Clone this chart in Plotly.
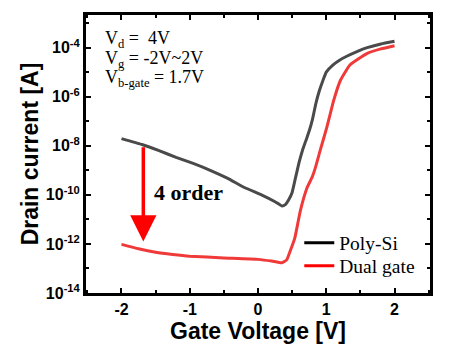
import plotly.graph_objects as go

# Poly-Si (single gate) transfer curve: gate voltage [V], log10 of drain current [A]
poly_vg = [-2.0, -1.7, -1.45, -1.2, -0.95, -0.7, -0.45, -0.2, 0.05, 0.25, 0.35, 0.40, 0.45, 0.50,
           0.55, 0.60, 0.65, 0.70, 0.75, 0.80, 0.85, 0.90, 0.95, 1.0, 1.1, 1.2, 1.3, 1.45, 1.6, 1.8, 2.0]
poly_log_id = [-7.71, -7.95, -8.2, -8.47, -8.72, -9.0, -9.32, -9.7, -10.0, -10.28, -10.45, -10.4, -10.2, -9.9,
               -9.3, -8.7, -8.2, -7.8, -7.4, -6.9, -6.25, -5.75, -5.35, -5.0, -4.7, -4.5, -4.35, -4.16, -4.0, -3.85, -3.74]

# Dual gate transfer curve
dual_vg = [-2.0, -1.75, -1.5, -1.25, -1.0, -0.5, 0.0, 0.2, 0.35, 0.42, 0.47, 0.54, 0.62, 0.72, 0.79,
           0.84, 0.91, 1.01, 1.11, 1.21, 1.35, 1.6, 1.8, 2.0]
dual_log_id = [-12.02, -12.2, -12.34, -12.43, -12.5, -12.57, -12.63, -12.7, -12.77, -12.65, -12.3, -11.75, -10.65,
               -9.7, -9.3, -8.9, -8.2, -7.23, -6.14, -5.32, -4.7, -4.23, -4.05, -3.92]

series_names = ["Poly-Si", "Dual gate"]

condition_lines = ["V<sub>d</sub> =  4V", "V<sub>g</sub> = -2V~2V", "V<sub>b-gate</sub> = 1.7V"]

y_tick_exponents = [-14, -12, -10, -8, -6, -4]
y_minor_exponents = [-13, -11, -9, -7, -5, -3]
x_tick_values = [-2, -1, 0, 1, 2]

# arrow marking the 4-order reduction
arrow_x = -1.68
arrow_from_exp = -8.0
arrow_to_exp = -11.9

fig = go.Figure()
fig.add_trace(go.Scatter(x=poly_vg, y=[10 ** v for v in poly_log_id], mode="lines",
                         line=dict(color="#4a4a4a", width=3, shape="spline", smoothing=0.4),
                         name=series_names[0], showlegend=False))
fig.add_trace(go.Scatter(x=dual_vg, y=[10 ** v for v in dual_log_id], mode="lines",
                         line=dict(color="#f03a3a", width=3, shape="spline", smoothing=0.4),
                         name=series_names[1], showlegend=False))
# legend entries (solid colours), one legend box per entry to control spacing
fig.add_trace(go.Scatter(x=[None], y=[None], mode="lines", line=dict(color="#000000", width=3),
                         name=series_names[0], legend="legend"))
fig.add_trace(go.Scatter(x=[None], y=[None], mode="lines", line=dict(color="#ff0000", width=3),
                         name=series_names[1], legend="legend2"))

fig.add_annotation(x=arrow_x, y=arrow_to_exp, ax=arrow_x, ay=arrow_from_exp,
                   xref="x", yref="y", axref="x", ayref="y",
                   showarrow=True, arrowhead=2, arrowsize=1.5, arrowwidth=3.5,
                   arrowcolor="#ff0000", text="")

fig.add_annotation(x=-1.55, y=-9.89, xref="x", yref="y", xanchor="left", yanchor="middle",
                   text="<b>4 order</b>", showarrow=False,
                   font=dict(family="Liberation Serif, Times New Roman, serif", size=22, color="#000"))

serif18 = dict(family="Liberation Serif, Times New Roman, serif", size=18, color="#000")
for line_text, ypos in zip(condition_lines, [0.912, 0.84, 0.77]):
    fig.add_annotation(x=0.049, y=ypos, xref="paper", yref="paper", xanchor="left", yanchor="middle",
                       align="left", showarrow=False, text=line_text, font=serif18)

axis_font = dict(family="Liberation Sans, Arial, sans-serif", size=16, color="#000", weight="bold")
title_font = dict(family="Liberation Sans, Arial, sans-serif", size=23, color="#000", weight="bold")

fig.update_xaxes(range=[-2.52, 2.52], tickvals=x_tick_values, ticktext=[str(v) for v in x_tick_values],
                 ticks="inside", ticklen=5, tickwidth=2, tickcolor="#000",
                 minor=dict(dtick=0.5, ticks="inside", ticklen=3, tickwidth=2, tickcolor="#000"),
                 showline=True, linewidth=3, linecolor="#000", mirror="allticks",
                 showgrid=False, zeroline=False, tickfont=axis_font, automargin=False,
                 title=dict(text="Gate Voltage [V]", font=title_font, standoff=3))
fig.update_yaxes(type="log", range=[-14, -2.67],
                 tickvals=[10 ** e for e in y_tick_exponents],
                 ticktext=["10<sup>%d</sup>" % e for e in y_tick_exponents],
                 ticks="inside", ticklen=5, tickwidth=2, tickcolor="#000",
                 minor=dict(tickvals=[10 ** e for e in y_minor_exponents], ticks="inside",
                            ticklen=3, tickwidth=2, tickcolor="#000"),
                 showline=True, linewidth=3, linecolor="#000", mirror="allticks",
                 showgrid=False, zeroline=False, tickfont=axis_font, automargin=False,
                 title=dict(text="Drain current [A]", font=title_font, standoff=1))

legend_font = dict(family="Liberation Serif, Times New Roman, serif", size=19.5, color="#000")
legend_common = dict(xanchor="left", yanchor="middle", bgcolor="rgba(0,0,0,0)", itemwidth=30,
                     font=legend_font)

# the page places the figure 8px in from the window's top-left corner
fig.update_layout(width=449, height=357, margin=dict(l=78, r=27, t=7, b=72),
                  plot_bgcolor="white", paper_bgcolor="white",
                  legend=dict(x=0.62, y=0.18, **legend_common),
                  legend2=dict(x=0.62, y=0.097, **legend_common))

fig.write_html("out.html")
